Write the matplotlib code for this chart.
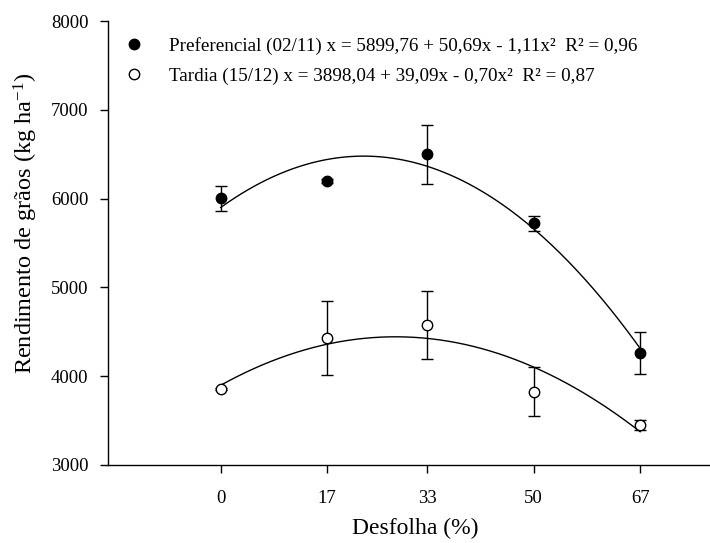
import matplotlib
matplotlib.use("Agg")
import matplotlib.pyplot as plt
from matplotlib.lines import Line2D
import numpy as np

plt.rcParams["font.family"] = ["Liberation Serif", "DejaVu Serif"]
plt.rcParams["mathtext.default"] = "regular"

DESFOLHA = [0, 17, 33, 50, 67]
TICK_LABELS = ["0", "17", "33", "50", "67"]
Y_TICKS = [3000, 4000, 5000, 6000, 7000, 8000]

PREF_MEAN = [6005, 6200, 6500, 5720, 4260]
PREF_ERR = [140, 20, 333, 85, 235]
TARD_MEAN = [3855, 4430, 4575, 3825, 3450]
TARD_ERR = [12, 420, 380, 275, 55]

# quadratic fits given in the legend: a + b*x + c*x^2
PREF_FIT = [5899.76, 50.69, -1.11]
TARD_FIT = [3898.04, 39.09, -0.70]

PREF_LABEL = "Preferencial (02/11) x = 5899,76 + 50,69x - 1,11x²  R² = 0,96"
TARD_LABEL = "Tardia (15/12) x = 3898,04 + 39,09x - 0,70x²  R² = 0,87"

W, H = 710, 543


def quad(coefs, x):
    a, b, c = coefs
    return a + b * x + c * x ** 2


fig = plt.figure(figsize=(W / 100, H / 100), dpi=100)
ax = fig.add_axes([108 / W, 78 / H, 601 / W, 444 / H])

xx = np.linspace(DESFOLHA[0], DESFOLHA[-1], 200)
ax.plot(xx, quad(PREF_FIT, xx), color="black", lw=1, zorder=2)
ax.plot(xx, quad(TARD_FIT, xx), color="black", lw=1, zorder=2)

err_kw = dict(fmt="none", ecolor="black", elinewidth=1, capsize=4.5, capthick=1, zorder=3)
ax.errorbar(DESFOLHA, PREF_MEAN, yerr=PREF_ERR, **err_kw)
ax.errorbar(DESFOLHA, TARD_MEAN, yerr=TARD_ERR, **err_kw)

ax.plot(DESFOLHA, PREF_MEAN, "o", ms=7.5, mfc="black", mec="black", mew=1, zorder=4)
ax.plot(DESFOLHA, TARD_MEAN, "o", ms=7.5, mfc="white", mec="black", mew=1, zorder=4)

ax.set_xlim(-18, 78)
ax.set_ylim(3000, 8000)
ax.set_xticks(DESFOLHA)
ax.set_xticklabels(TICK_LABELS)
ax.set_yticks(Y_TICKS)

for side in ["top", "right"]:
    ax.spines[side].set_visible(False)
for side in ["left", "bottom"]:
    ax.spines[side].set_linewidth(1)

ax.tick_params(direction="out", length=6, width=1, labelsize=13.5, color="black")
ax.tick_params(axis="y", pad=8)
ax.tick_params(axis="x", pad=12)

ax.set_xlabel("Desfolha (%)", fontsize=17)
ax.xaxis.set_label_coords((415 - 108) / 601, (465 - 518) / 444)
ax.set_ylabel("Rendimento de grãos (kg ha$^{-1}$)", fontsize=17.5)
ax.yaxis.set_label_coords((40 - 108) / 601, (465 - 223) / 444)

handles = [
    Line2D([], [], ls="none", marker="o", ms=7.5, mfc="black", mec="black"),
    Line2D([], [], ls="none", marker="o", ms=7.5, mfc="white", mec="black"),
]
ax.legend(handles, [PREF_LABEL, TARD_LABEL], loc="upper left",
          bbox_to_anchor=(124 / W, 1 - 37 / H), bbox_transform=fig.transFigure,
          frameon=False, fontsize=13.8, borderpad=0, borderaxespad=0,
          handlelength=1.0, handletextpad=1.35, labelspacing=0.67)

fig.savefig("out.png", dpi=100)
